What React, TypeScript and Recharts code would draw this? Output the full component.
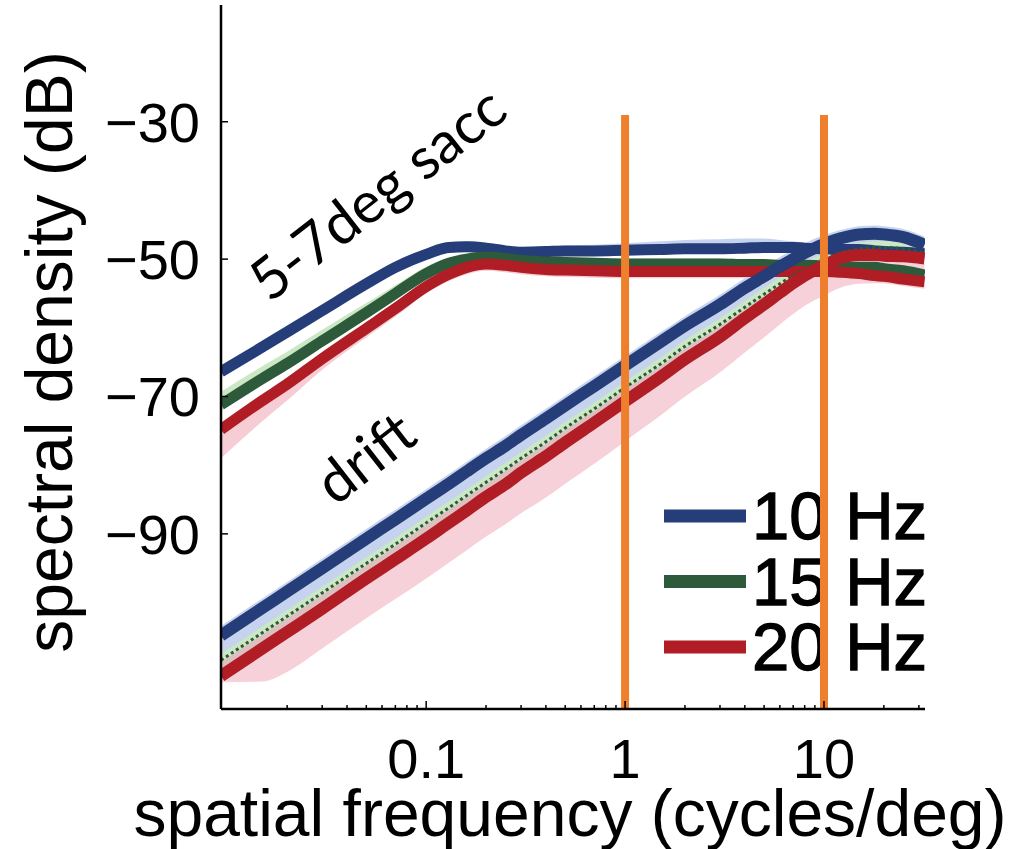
import React from "react";
import { Area, ComposedChart, Line, ReferenceLine, XAxis, YAxis } from "recharts";

// spatial frequency (cycles/deg)
const freqs = [
  0.0093, 0.015, 0.02, 0.03, 0.05, 0.07, 0.1, 0.13, 0.16, 0.2, 0.25, 0.3, 0.4, 0.5, 0.7, 1,
  1.5, 2, 3, 4, 5, 6, 7, 8, 10, 12, 15, 18, 20, 25, 32
];

// 5-7deg saccades (dB)
const saccBlue = [
  -66.4, -62.8, -60.6, -57.5, -53.6, -51.2, -49.3, -48.3, -48.2, -48.4, -48.8, -49.0, -48.9, -48.8, -48.8, -48.7,
  -48.6, -48.5, -48.5, -48.4, -48.3, -48.3, -48.3, -48.4, -48.5, -48.6, -48.6, -48.8, -48.9, -49.0, -49.2
];
const saccGreen = [
  -71.2, -67.4, -65.2, -61.9, -57.8, -55.0, -52.1, -50.6, -50.0, -49.7, -49.9, -50.2, -50.4, -50.5, -50.6, -50.7,
  -50.7, -50.7, -50.7, -50.8, -50.8, -50.9, -50.9, -50.9, -51.0, -51.1, -51.2, -51.2, -51.4, -51.7, -52.3
];
const saccRed = [
  -74.8, -70.6, -68.2, -64.5, -60.1, -57.2, -54.0, -52.2, -51.2, -50.7, -50.9, -51.2, -51.5, -51.6, -51.7, -51.8,
  -51.8, -51.8, -51.8, -51.8, -51.8, -51.8, -51.8, -51.8, -51.8, -51.9, -52.1, -52.4, -52.5, -52.9, -53.3
];

// drift (dB)
const driftBlue = [
  -104.8, -100.8, -98.4, -95.0, -90.7, -87.9, -84.9, -82.7, -80.9, -79.0, -77.2, -75.6, -73.2, -71.3, -68.5, -65.5,
  -62.1, -59.7, -56.6, -54.2, -52.5, -51.1, -50.0, -49.1, -47.8, -47.0, -46.4, -46.3, -46.4, -46.8, -47.9
];
const driftGreen = [
  -108.4, -104.4, -102.0, -98.6, -94.3, -91.5, -88.4, -86.2, -84.4, -82.5, -80.6, -79.0, -76.6, -74.6, -71.8, -68.7,
  -65.3, -62.7, -59.5, -57.0, -55.1, -53.6, -52.4, -51.4, -50.0, -49.1, -48.5, -48.3, -48.3, -48.5, -49.1
];
const driftRed = [
  -110.7, -106.7, -104.3, -100.9, -96.5, -93.7, -90.7, -88.4, -86.6, -84.6, -82.8, -81.1, -78.7, -76.7, -73.8, -70.7,
  -67.2, -64.6, -61.3, -58.6, -56.6, -54.9, -53.5, -52.4, -50.9, -49.9, -49.4, -49.4, -49.5, -49.6, -49.9
];

// spread of the shaded bands, above / below each curve (dB)
const saccBlueHi = [0.8, 0.8, 0.8, 0.8, 0.8, 0.8, 0.8, 0.8, 0.8, 0.8, 0.8, 0.8, 0.8, 0.8, 0.9, 1.0, 1.2, 1.3, 1.4, 1.4, 1.3, 1.1, 0.9, 0.8, 0.8, 0.8, 0.8, 0.8, 0.8, 0.8, 0.8];
const saccBlueLo = [0.7, 0.7, 0.7, 0.7, 0.7, 0.7, 0.7, 0.7, 0.7, 0.7, 0.7, 0.7, 0.7, 0.7, 0.7, 0.7, 0.7, 0.7, 0.7, 0.7, 0.7, 0.7, 0.7, 0.7, 0.7, 0.7, 0.7, 0.7, 0.7, 0.7, 0.7];
const saccGreenHi = [1.9, 1.8, 1.7, 1.6, 1.4, 1.2, 1.0, 0.8, 0.8, 0.8, 0.8, 0.8, 0.8, 0.8, 0.8, 0.8, 0.8, 0.8, 0.8, 0.8, 0.8, 0.8, 0.8, 0.8, 0.8, 0.8, 0.8, 0.8, 0.8, 0.8, 0.8];
const saccGreenLo = [0.9, 0.9, 0.9, 0.9, 0.9, 0.9, 0.8, 0.8, 0.8, 0.8, 0.8, 0.8, 0.8, 0.8, 0.8, 0.8, 0.8, 0.8, 0.8, 0.8, 0.8, 0.8, 0.8, 0.8, 0.8, 0.8, 0.8, 0.8, 0.8, 0.8, 0.8];
const saccRedHi = [0.8, 0.8, 0.8, 0.8, 0.8, 0.8, 0.8, 0.8, 0.8, 0.8, 0.8, 0.8, 0.8, 0.8, 0.8, 0.8, 0.8, 0.8, 0.8, 0.8, 0.8, 0.8, 0.8, 0.8, 0.8, 0.8, 0.8, 0.8, 0.8, 0.8, 0.8];
const saccRedLo = [4.2, 3.0, 2.4, 1.6, 1.3, 1.2, 1.0, 1.0, 1.0, 1.0, 1.0, 1.0, 1.0, 1.0, 1.0, 1.0, 1.0, 1.0, 1.0, 1.0, 1.0, 1.0, 1.0, 1.0, 1.0, 1.0, 1.0, 1.0, 1.0, 1.0, 1.0];
const driftBlueHi = [1.4, 1.4, 1.4, 1.4, 1.4, 1.4, 1.4, 1.4, 1.4, 1.4, 1.4, 1.4, 1.4, 1.4, 1.4, 1.4, 1.4, 1.4, 1.4, 1.4, 1.4, 1.4, 1.4, 1.4, 1.3, 1.2, 1.2, 1.2, 1.2, 1.2, 1.2];
const driftBlueLo = [3.4, 3.4, 3.4, 3.4, 3.4, 3.3, 3.3, 3.3, 3.3, 3.3, 3.2, 3.2, 3.2, 3.2, 3.1, 3.0, 3.0, 2.9, 2.8, 2.7, 2.6, 2.5, 2.4, 2.3, 2.1, 2.0, 2.0, 1.9, 1.9, 1.6, 1.2];
const driftGreenHi = [0.9, 0.9, 0.9, 0.9, 0.9, 0.9, 0.9, 0.9, 0.9, 0.9, 0.9, 0.9, 0.9, 0.9, 0.9, 0.9, 0.9, 0.9, 0.9, 0.9, 0.9, 0.9, 0.9, 0.9, 0.9, 0.9, 0.9, 0.9, 0.9, 0.9, 0.9];
const driftRedLo = [0.9, 4.8, 5.8, 5.8, 5.8, 5.8, 5.8, 5.8, 5.8, 5.8, 5.8, 5.9, 6.0, 6.0, 6.0, 5.8, 5.6, 5.4, 5.2, 5.0, 4.8, 4.6, 4.5, 4.4, 4.4, 4.3, 4.2, 4.1, 4.0, 4.0, 4.0];

const xTicks = [
  0.02, 0.03, 0.04, 0.05, 0.06, 0.07, 0.08, 0.09, 0.1,
  0.2, 0.3, 0.4, 0.5, 0.6, 0.7, 0.8, 0.9, 1,
  2, 3, 4, 5, 6, 7, 8, 9, 10, 20, 30
];
const xLabels: Record<number, string> = { 0.1: "0.1", 1: "1", 10: "10" };
const yTicks = [-90, -70, -50, -30];
const markers = [1, 10];
const legendItems = [
  { name: "10 Hz", color: "#253d78" },
  { name: "15 Hz", color: "#2d5a3a" },
  { name: "20 Hz", color: "#b01d25" }
];

const data = freqs.map((f, i) => ({
  f,
  sBlue: saccBlue[i],
  sGreen: saccGreen[i],
  sRed: saccRed[i],
  dBlue: driftBlue[i],
  dGreen: driftGreen[i],
  dRed: driftRed[i],
  sBlueBand: [saccBlue[i] - saccBlueLo[i], saccBlue[i] + saccBlueHi[i]],
  sGreenBand: [saccGreen[i] - saccGreenLo[i], saccGreen[i] + saccGreenHi[i]],
  sRedBand: [saccRed[i] - saccRedLo[i], saccRed[i] + saccRedHi[i]],
  dBlueBand: [driftBlue[i] - driftBlueLo[i], driftBlue[i] + driftBlueHi[i]],
  dGreenBand: [driftGreen[i] - 0.6, driftGreen[i] + driftGreenHi[i]],
  dMixBand: [driftRed[i], driftGreen[i] - 0.3],
  dRedBand: [driftRed[i] - driftRedLo[i], driftRed[i]]
}));

const FONT = "'Liberation Sans', Arial, Helvetica, sans-serif";
const TICK_FS = 56;

function XTick(props: any) {
  const { x, y, payload } = props;
  const label = xLabels[payload.value];
  return (
    <g>
      <line x1={x} x2={x} y1={y} y2={y - (label ? 8 : 4)} stroke="#000" strokeWidth={1.5} />
      {label && (
        <text x={x} y={y + 69} textAnchor="middle" fontSize={TICK_FS} fontFamily={FONT} fill="#000">
          {label}
        </text>
      )}
    </g>
  );
}

function YTick(props: any) {
  const { x, y, payload } = props;
  return (
    <g>
      <line x1={x} x2={x + 7} y1={y} y2={y} stroke="#000" strokeWidth={1.5} />
      <text x={x - 21} y={y + 20} textAnchor="end" fontSize={TICK_FS} fontFamily={FONT} fill="#000">
        {"\u2212" + Math.abs(payload.value)}
      </text>
    </g>
  );
}

const C = {
  blue: "#253d78",
  green: "#2d5a3a",
  red: "#b01d25",
  lightBlue: "#c6d3ee",
  lightGreen: "#cbe7c3",
  pink: "#f6ccd5",
  mix: "#ddbfc0",
  orange: "#ee7f2d"
};

export default function App() {
  return (
    <div style={{ position: "absolute", left: 0, top: 0, width: 1031, height: 849, background: "#fff" }}>
      <svg width={1031} height={849} style={{ position: "absolute", left: 0, top: 0 }}>
        <text x={570} y={836} textAnchor="middle" fontSize={66} fontFamily={FONT} fill="#000">
          spatial frequency (cycles/deg)
        </text>
        <text
          transform="translate(72 352) rotate(-90)"
          textAnchor="middle"
          fontSize={66}
          fontFamily={FONT}
          fill="#000"
        >
          spectral density (dB)
        </text>
        <text
          transform="translate(376 192) rotate(-38)"
          textAnchor="middle"
          dominantBaseline="central"
          fontSize={58}
          fontFamily="Lato, 'Noto Sans', sans-serif"
          fill="#000"
        >
          5-7deg sacc
        </text>
        <text
          transform="translate(364 456) rotate(-38)"
          textAnchor="middle"
          dominantBaseline="central"
          fontSize={58}
          fontFamily="Lato, 'Noto Sans', sans-serif"
          fill="#000"
        >
          drift
        </text>
        {legendItems.map((it, i) => (
          <g key={it.name}>
            <line x1={664} x2={746} y1={516 + i * 65.5} y2={516 + i * 65.5} stroke={it.color} strokeWidth={13} />
            <text
              x={752}
              y={539 + i * 65.5}
              fontSize={67}
              fontFamily={FONT}
              fill="#000"
              stroke="#000"
              strokeWidth={1.3}
            >
              {it.name}
            </text>
          </g>
        ))}
      </svg>
      <div style={{ position: "absolute", left: 0, top: 0 }}>
        <ComposedChart width={1031} height={849} data={data} margin={{ top: 5, right: 106, bottom: 0, left: 0 }}>
          <XAxis
            dataKey="f"
            type="number"
            scale="log"
            domain={[0.0093, 32.2]}
            allowDataOverflow
            ticks={xTicks}
            interval={0}
            tickSize={0}
            tickMargin={0}
            tickLine={false}
            tick={XTick}
            axisLine={{ stroke: "#000", strokeWidth: 2.5 }}
            height={140}
          />
          <YAxis
            type="number"
            domain={[-115.5, -13]}
            allowDataOverflow
            ticks={yTicks}
            interval={0}
            tickSize={0}
            tickMargin={0}
            tickLine={false}
            tick={YTick}
            axisLine={{ stroke: "#000", strokeWidth: 2.5 }}
            width={221}
          />

          <Area dataKey="sBlueBand" type="monotone" fill={C.lightBlue} fillOpacity={1} stroke="none" isAnimationActive={false} />
          <Area dataKey="sGreenBand" type="monotone" fill={C.lightGreen} fillOpacity={1} stroke="none" isAnimationActive={false} />
          <Area dataKey="sRedBand" type="monotone" fill={C.pink} fillOpacity={1} stroke="none" isAnimationActive={false} />
          <Line dataKey="sBlue" type="monotone" stroke={C.blue} strokeWidth={11} dot={false} activeDot={false} isAnimationActive={false} />
          <Line dataKey="sGreen" type="monotone" stroke={C.green} strokeWidth={11} dot={false} activeDot={false} isAnimationActive={false} />
          <Line dataKey="sRed" type="monotone" stroke={C.red} strokeWidth={11} dot={false} activeDot={false} isAnimationActive={false} />

          <Area dataKey="dBlueBand" type="monotone" fill={C.lightBlue} fillOpacity={1} stroke="none" isAnimationActive={false} />
          <Area dataKey="dGreenBand" type="monotone" fill={C.lightGreen} fillOpacity={1} stroke="none" isAnimationActive={false} />
          <Area dataKey="dMixBand" type="monotone" fill={C.mix} fillOpacity={1} stroke="none" isAnimationActive={false} />
          <Area dataKey="dRedBand" type="monotone" fill={C.pink} fillOpacity={0.9} stroke="none" isAnimationActive={false} />
          <Line dataKey="dBlue" type="monotone" stroke={C.blue} strokeWidth={12} dot={false} activeDot={false} isAnimationActive={false} />
          <Line dataKey="dGreen" type="monotone" stroke={C.green} strokeWidth={3} strokeDasharray="3 3" dot={false} activeDot={false} isAnimationActive={false} />
          <Line dataKey="dRed" type="monotone" stroke={C.red} strokeWidth={12} dot={false} activeDot={false} isAnimationActive={false} />

          {markers.map((m) => (
            <ReferenceLine
              key={m}
              segment={[{ x: m, y: -29 }, { x: m, y: -115.5 }]}
              stroke={C.orange}
              strokeWidth={8}
              ifOverflow="visible"
            />
          ))}
        </ComposedChart>
      </div>
    </div>
  );
}
